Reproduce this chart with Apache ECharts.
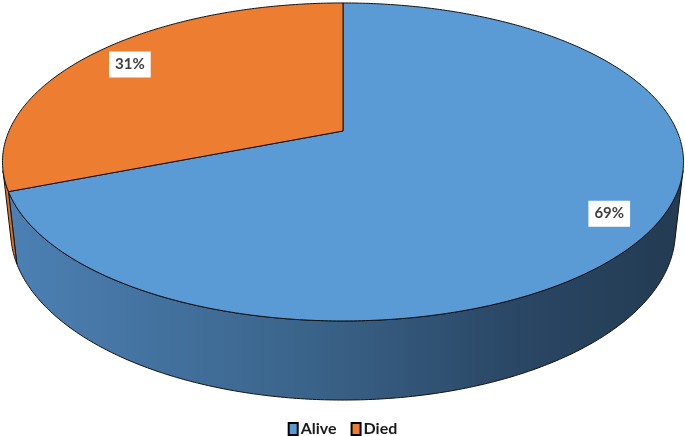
<!DOCTYPE html>
<html>
<head>
<meta charset="utf-8">
<script src="https://cdn.jsdelivr.net/npm/echarts@6/dist/echarts.min.js"></script>
<style>html,body{margin:0;padding:0;background:#fff}#c{width:685px;height:436px}</style>
</head>
<body>
<div id="c"></div>
<script>
// ---- data ----
const categories = ['Alive', 'Died'];
const values = [69, 31];

// ---- styles ----
const topColors = ['#5B9BD5', '#ED7D31'];
const sideGradients = [
  [[0, '#4c80b4'], [0.45, '#3a6389'], [0.75, '#2a4765'], [1, '#233b52']],
  [[0, '#dc752e'], [1, '#d06a28']]
];

// ---- 3D perspective geometry (pie is drawn by projecting data angles) ----
const CX = 343, CY = 131, SCALE = 334;
const SIN_PHI = 0.458, COS_PHI = Math.sqrt(1 - SIN_PHI * SIN_PHI);
const RD = 0.219;     // radius / camera distance
const DEPTH = 0.236;  // pie thickness / radius
const total = values.reduce((a, b) => a + b, 0);

function proj(theta, rad, h) {
  const c = Math.cos(theta) * rad, s = Math.sin(theta) * rad;
  const w = 1 + RD * (s * COS_PHI - h * SIN_PHI);
  const v = s * SIN_PHI + h * COS_PHI;
  return [CX + SCALE * c / w, CY - SCALE * v / w];
}
const silR = Math.asin(-RD / COS_PHI);       // right silhouette angle
const silL = -Math.PI - silR;                 // left silhouette angle

function arcPts(a0, a1, rad, h) {
  const n = Math.max(2, Math.ceil(Math.abs(a1 - a0) / 0.01));
  const pts = [];
  for (let i = 0; i <= n; i++) pts.push(proj(a0 + (a1 - a0) * i / n, rad, h));
  return pts;
}

function makeRender(idx) {
  return function (params, api) {
    const v = api.value(0);
    let before = 0;
    for (let i = 0; i < idx; i++) before += values[i];
    const a0 = Math.PI / 2 - 2 * Math.PI * before / total;
    const a1 = Math.PI / 2 - 2 * Math.PI * (before + v) / total; // clockwise
    const children = [];
    // side face (visible front part)
    for (let k = -1; k <= 1; k++) {
      const lo = Math.max(a1, silL + 2 * Math.PI * k);
      const hi = Math.min(a0, silR + 2 * Math.PI * k);
      if (hi > lo) {
        const top = arcPts(lo, hi, 1, 0);
        const bot = arcPts(hi, lo, 1, -DEPTH);
        children.push({
          type: 'polygon', z2: 1,
          shape: { points: top.concat(bot) },
          style: {
            fill: new echarts.graphic.LinearGradient(0, 0, 1, 0,
              sideGradients[idx].map(s => ({ offset: s[0], color: s[1] }))),
            stroke: '#111', lineWidth: 1
          }
        });
      }
    }
    // top face
    const pts = [proj(0, 0, 0)].concat(arcPts(a0, a1, 1, 0));
    children.push({
      type: 'polygon', z2: 5,
      shape: { points: pts },
      style: { fill: topColors[idx], stroke: '#111', lineWidth: 1 }
    });
    // data label
    const mid = (a0 + a1) / 2;
    const lp = proj(mid, 0.86, 0);
    children.push({
      type: 'text', z2: 10,
      x: lp[0] + 4, y: lp[1] + 1,
      style: {
        text: Math.round(v / total * 100) + '%',
        align: 'center', verticalAlign: 'middle',
        font: 'bold 15px Lato', fill: '#404040',
        backgroundColor: '#ffffff', padding: [6, 6, 5, 6]
      }
    });
    return { type: 'group', children: children };
  };
}

const chart = echarts.init(document.getElementById('c'), null, { renderer: 'canvas' });
chart.setOption({
  animation: false,
  legend: {
    data: categories,
    top: 416, left: 'center',
    icon: 'rect', itemWidth: 9, itemHeight: 12, itemGap: 14,
    itemStyle: { borderColor: '#000', borderWidth: 2 },
    textStyle: { fontFamily: 'Lato', fontWeight: 'bold', fontSize: 16, color: '#1a1a1a', padding: [0, 0, 0, -2] }
  },
  series: categories.map((name, i) => ({
    type: 'custom', name: name, coordinateSystem: 'none',
    itemStyle: { color: topColors[i] },
    data: [values[i]],
    renderItem: makeRender(i)
  }))
});
</script>
</body>
</html>
